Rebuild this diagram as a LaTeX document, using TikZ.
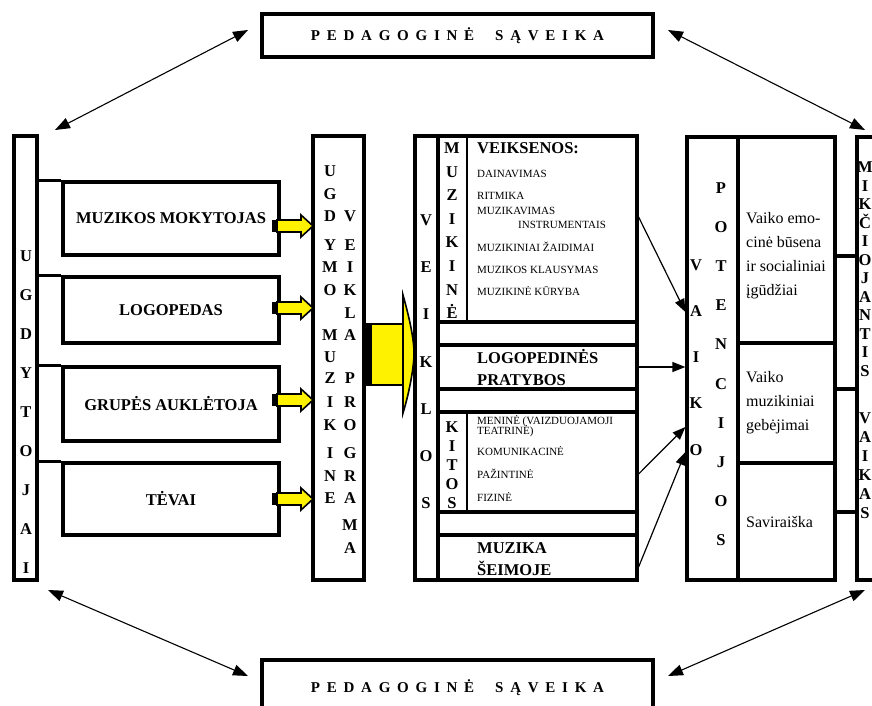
\documentclass[tikz,border=0pt]{standalone}
\usepackage{fontspec}
\setmainfont{Liberation Serif}
\newfontfamily\spacedfont[LetterSpace=45]{Liberation Serif}
\usetikzlibrary{arrows.meta,calc}
\tikzset{
	frame/.style={draw, line width=3.2pt, inner sep=0pt},
	letter/.style={font=\bfseries\fontsize{16.5}{18}\selectfont, inner sep=0pt, text height=11pt, text depth=0pt},
	bigtxt/.style={font=\bfseries\fontsize{16.5}{18}\selectfont, inner sep=0pt, anchor=west},
	smalltxt/.style={font=\fontsize{11}{11}\selectfont, inner sep=0pt, anchor=west, text height=7.5pt, text depth=0pt},
	regtxt/.style={font=\fontsize{16}{24}\selectfont, inner sep=0pt, anchor=west, align=left},
	ped/.style={font=\spacedfont\bfseries\fontsize{15}{15}\selectfont},
	link/.style={line width=1.2pt, -{Triangle[length=13pt,width=10pt]}},
	saveika/.style={line width=1.1pt, {Triangle[length=15pt,width=11pt]}-{Triangle[length=15pt,width=11pt]}},
	yfill/.style={fill=yellow, draw=black, line width=1.6pt},
}
% block arrow: x start, x end, y
\def\blockarr(#1,#2,#3){\fill[black] (#1,#3-6) rectangle (#1+5,#3+6);
	\filldraw[yfill] (#1+5,#3-6) -- (#2-12,#3-6) -- (#2-12,#3-11) -- (#2,#3) -- (#2-12,#3+11) -- (#2-12,#3+6) -- (#1+5,#3+6) -- cycle;}
\begin{document}
\begin{tikzpicture}[x=1pt, y=-1pt, line join=miter]
	%%%%% START %%%%%
	\useasboundingbox (0,0) rectangle (872,706);
	
	\node[frame, ped, minimum width=391, minimum height=43] (pedtop) at (457.5,35.5) {PEDAGOGINĖ\ \ SĄVEIKA};
	\node[frame, ped, minimum width=391, minimum height=56] (pedbot) at (457.5,688) {PEDAGOGINĖ\ \ SĄVEIKA};
	
	\coordinate (tl1) at (248,30);  \coordinate (tl2) at (55,130);
	\coordinate (tr1) at (668,30);  \coordinate (tr2) at (865,130);
	\coordinate (bl1) at (48,590);  \coordinate (bl2) at (248,676);
	\coordinate (br1) at (865,590); \coordinate (br2) at (668,676);
	\draw[saveika] (tl1) -- (tl2);
	\draw[saveika] (tr1) -- (tr2);
	\draw[saveika] (bl1) -- (bl2);
	\draw[saveika] (br1) -- (br2);
	
	% ugdytojai
	\node[frame, minimum width=23, minimum height=444] (ugd) at (25.5,358) {};
	\foreach \l [count=\i] in {U,G,D,Y,T,O,J,A,I}
		\node[letter] (ugd\i) at (26,{256+39*(\i-1)}) {\l};
	
	\node[frame, bigtxt, anchor=center, minimum width=216, minimum height=73] (mok) at (171,218.5) {MUZIKOS MOKYTOJAS};
	\node[frame, bigtxt, anchor=center, minimum width=216, minimum height=66] (logo) at (171,310) {LOGOPEDAS};
	\node[frame, bigtxt, anchor=center, minimum width=216, minimum height=74] (aukl) at (171,404) {GRUPĖS AUKLĖTOJA};
	\node[frame, bigtxt, anchor=center, minimum width=216, minimum height=72] (tev) at (171,499) {TĖVAI};
	\foreach \b in {mok,logo,aukl,tev}
		\draw[line width=3.2pt] (ugd.east |- \b.north west) -- (\b.north west);
	
	% programa
	\node[frame, minimum width=51, minimum height=444] (prog) at (338.5,358) {};
	\foreach \l/\y [count=\i] in {U/171,G/194,D/216,Y/245,M/267,O/290,M/335,U/357,Z/378,I/402,K/425,I/453,N/476,E/498}
		\node[letter] (pl\i) at (330,\y) {\l};
	\foreach \l/\y [count=\i] in {V/216,E/245,I/267,K/290,L/313,A/335,P/378,R/402,O/425,G/453,R/476,A/498,M/525,A/548}
		\node[letter] (pr\i) at (350,\y) {\l};
	
	\blockarr(272,313,226)
	\blockarr(272,313,308)
	\blockarr(272,313,400)
	\blockarr(272,313,499)
	
	% big arrow
	\fill[yellow] (366,324) rectangle (403,385);
	\draw[line width=1.6pt] (403,324) -- (366,324) -- (366,385) -- (403,385);
	\fill[black] (366,324) rectangle (372,385);
	\filldraw[fill=yellow, line width=1.6pt] (403,295) .. controls (410,320) and (414,340) .. (414,353) .. controls (414,366) and (410,390) .. (403,413) -- cycle;
	
	% veiklos
	\node[frame, minimum width=222, minimum height=444] (veik) at (526,358) {};
	\draw[line width=3.2pt] (438,136) -- (438,580);
	\foreach \y in {322,345,389,412,512,535}
		\draw[line width=3.2pt] (438,\y) -- (veik.east |- 0,\y);
	\draw[line width=1.6pt] (467,136) -- (467,322);
	\draw[line width=1.6pt] (467,412) -- (467,512);
	\foreach \l [count=\i] in {V,E,I,K,L,O,S}
		\node[letter] (vk\i) at (426,{220+47.2*(\i-1)}) {\l};
	\foreach \l [count=\i] in {M,U,Z,I,K,I,N,Ė}
		\node[letter] (mz\i) at (452,{148+23.6*(\i-1)}) {\l};
	\foreach \l/\y [count=\i] in {K/427,I/446,T/465,O/484,S/503}
		\node[letter] (kt\i) at (452,\y) {\l};
	
	\node[bigtxt] (veiks) at (477,148) {VEIKSENOS:};
	\node[smalltxt] (dain) at (477,174) {DAINAVIMAS};
	\node[smalltxt] (ritm) at (477,196) {RITMIKA};
	\node[smalltxt] (muzi) at (477,211) {MUZIKAVIMAS};
	\node[smalltxt] (instr) at (518,225) {INSTRUMENTAIS};
	\node[smalltxt] (zaid) at (477,248) {MUZIKINIAI ŽAIDIMAI};
	\node[smalltxt] (klaus) at (477,270) {MUZIKOS KLAUSYMAS};
	\node[smalltxt] (kur) at (477,292) {MUZIKINĖ KŪRYBA};
	
	\node[bigtxt] (lopa) at (477,357) {LOGOPEDINĖS};
	\node[bigtxt] (lopb) at (477,380) {PRATYBOS};
	
	\node[smalltxt] (men) at (477,421) {MENINĖ (VAIZDUOJAMOJI};
	\node[smalltxt] (teat) at (477,431) {TEATRINĖ)};
	\node[smalltxt] (kom) at (477,452) {KOMUNIKACINĖ};
	\node[smalltxt] (paz) at (477,475) {PAŽINTINĖ};
	\node[smalltxt] (fiz) at (477,498) {FIZINĖ};
	
	\node[bigtxt] (seima) at (477,548) {MUZIKA};
	\node[bigtxt] (seimb) at (477,568) {ŠEIMOJE};
	
	% potencijos
	\node[frame, minimum width=148, minimum height=443] (pot) at (761,358.5) {};
	\draw[line width=3.2pt] (738,137) -- (738,580);
	\draw[line width=3.2pt] (738,343) -- (pot.east |- 0,343);
	\draw[line width=3.2pt] (738,463) -- (pot.east |- 0,463);
	\foreach \l [count=\i] in {P,O,T,E,N,C,I,J,O,S}
		\node[letter] (pt\i) at (721,{188+39.1*(\i-1)}) {\l};
	\foreach \l/\y [count=\i] in {V/265,A/311,I/357,K/403,O/450}
		\node[letter] (va\i) at (696,\y) {\l};
	\node[regtxt] (emo) at (746,256) {Vaiko emo-\\cinė būsena\\ir socialiniai\\įgūdžiai};
	\node[regtxt] (geb) at (746,403) {Vaiko\\muzikiniai\\gebėjimai};
	\node[regtxt] (savi) at (746,522) {Saviraiška};
	
	\draw[link] (veik.east |- 0,217) -- (pot.west |- 0,312);
	\draw[link] (veik.east |- 0,367) -- (pot.west |- 0,367);
	\draw[link] (veik.east |- 0,474) -- (pot.west |- 0,427);
	\draw[link] (veik.east |- 0,567) -- (pot.west |- 0,452);
	
	% mikciojantis vaikas
	\node[frame, minimum width=38, minimum height=443] (mik) at (876,358.5) {};
	\foreach \y in {256,389,512}
		\draw[line width=3.2pt] (pot.east |- 0,\y) -- (mik.west |- 0,\y);
	\foreach \l [count=\i] in {M,I,K,Č,I,O,J,A,N,T,I,S}
		\node[letter] (mk\i) at (865,{167+18.5*(\i-1)}) {\l};
	\foreach \l [count=\i] in {V,A,I,K,A,S}
		\node[letter] (vs\i) at (865,{418+19*(\i-1)}) {\l};
	
	%%%%% END %%%%%
\end{tikzpicture}
\end{document}
